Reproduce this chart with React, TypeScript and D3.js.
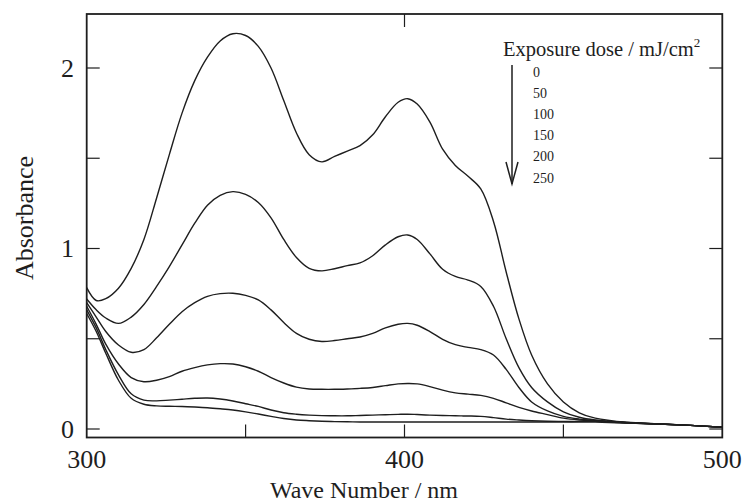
import React from "react";
import * as d3 from "d3";

const wavelengths = [300, 303, 306, 310, 314, 318, 322, 326, 330, 334, 338, 342, 346, 350, 354, 358, 362, 366, 370, 374, 378, 382, 386, 390, 394, 398, 401, 404, 408, 412, 416, 420, 424, 428, 432, 436, 440, 445, 450, 455, 460, 470, 480, 490, 500];

const dose0 = [0.783, 0.712, 0.722, 0.78, 0.89, 1.05, 1.28, 1.52, 1.75, 1.93, 2.06, 2.15, 2.19, 2.18, 2.12, 2.00, 1.82, 1.64, 1.52, 1.48, 1.51, 1.54, 1.57, 1.63, 1.73, 1.81, 1.83, 1.80, 1.70, 1.55, 1.46, 1.40, 1.33, 1.15, 0.87, 0.61, 0.41, 0.25, 0.15, 0.09, 0.06, 0.037, 0.029, 0.02, 0.01];
const dose50 = [0.72, 0.66, 0.615, 0.585, 0.62, 0.69, 0.79, 0.90, 1.02, 1.14, 1.24, 1.295, 1.315, 1.30, 1.255, 1.17, 1.05, 0.95, 0.89, 0.876, 0.888, 0.905, 0.92, 0.96, 1.02, 1.065, 1.075, 1.05, 0.97, 0.885, 0.845, 0.825, 0.79, 0.68, 0.50, 0.34, 0.23, 0.15, 0.095, 0.065, 0.05, 0.036, 0.028, 0.02, 0.01];
const dose100 = [0.70, 0.62, 0.54, 0.465, 0.425, 0.44, 0.505, 0.58, 0.65, 0.70, 0.735, 0.75, 0.752, 0.74, 0.715, 0.66, 0.59, 0.53, 0.497, 0.485, 0.49, 0.50, 0.51, 0.53, 0.56, 0.58, 0.585, 0.575, 0.54, 0.497, 0.467, 0.452, 0.44, 0.41, 0.33, 0.23, 0.15, 0.10, 0.07, 0.055, 0.047, 0.035, 0.028, 0.02, 0.01];
const dose150 = [0.68, 0.58, 0.47, 0.36, 0.285, 0.262, 0.27, 0.29, 0.32, 0.34, 0.355, 0.362, 0.36, 0.345, 0.32, 0.285, 0.255, 0.232, 0.222, 0.22, 0.22, 0.222, 0.225, 0.23, 0.24, 0.25, 0.252, 0.25, 0.235, 0.215, 0.20, 0.193, 0.186, 0.17, 0.145, 0.12, 0.10, 0.08, 0.06, 0.05, 0.045, 0.035, 0.028, 0.02, 0.01];
const dose200 = [0.66, 0.56, 0.44, 0.30, 0.195, 0.16, 0.156, 0.16, 0.165, 0.17, 0.172, 0.166, 0.155, 0.14, 0.125, 0.105, 0.09, 0.082, 0.077, 0.074, 0.073, 0.073, 0.075, 0.077, 0.079, 0.081, 0.082, 0.08, 0.077, 0.075, 0.073, 0.072, 0.07, 0.063, 0.055, 0.05, 0.046, 0.043, 0.042, 0.042, 0.042, 0.034, 0.027, 0.02, 0.01];
const dose250 = [0.64, 0.54, 0.42, 0.27, 0.17, 0.137, 0.128, 0.126, 0.125, 0.122, 0.118, 0.112, 0.105, 0.095, 0.083, 0.07, 0.058, 0.05, 0.046, 0.043, 0.041, 0.04, 0.039, 0.039, 0.039, 0.039, 0.039, 0.039, 0.039, 0.039, 0.039, 0.039, 0.039, 0.039, 0.039, 0.039, 0.039, 0.039, 0.039, 0.039, 0.038, 0.033, 0.027, 0.02, 0.01];

const series = [dose0, dose50, dose100, dose150, dose200, dose250];
const doseLabels = ["0", "50", "100", "150", "200", "250"];

const xLabelTicks = [300, 400, 500];
const xMinorTicks = [350, 400, 450];
const xTopTicks = [400];
const yLabelTicks = [0, 1, 2];
const yTicks = [0, 0.5, 1, 1.5, 2];

const FONT = "'Liberation Serif', 'Times New Roman', Times, serif";
const INK = "#1e1e1e";

export default function App() {
  const left = 86.7, right = 722.3, top = 14, bottom = 437.5;
  const x = d3.scaleLinear().domain([300, 500]).range([left, right]);
  const y = d3.scaleLinear().domain([0, 2]).range([429, 68]);
  const line = d3
    .line<number>()
    .x((_, i) => x(wavelengths[i]))
    .y((d) => y(d))
    .curve(d3.curveCatmullRom.alpha(0.5));
  const tl = 13;

  return (
    <svg width={745} height={504} style={{ position: "absolute", left: 0, top: 0, background: "#fff" }}>
      <rect x={0} y={0} width={745} height={504} fill="#fff" />
      {series.map((s, i) => (
        <path key={i} d={line(s) || ""} fill="none" stroke={INK} strokeWidth={1.4} />
      ))}
      <rect x={left} y={top} width={right - left} height={bottom - top} fill="none" stroke={INK} strokeWidth={1.8} />
      {yTicks.map((t) => (
        <g key={"y" + t}>
          <line x1={left} x2={left + tl} y1={y(t)} y2={y(t)} stroke={INK} strokeWidth={1.2} />
          <line x1={right} x2={right - tl} y1={y(t)} y2={y(t)} stroke={INK} strokeWidth={1.2} />
        </g>
      ))}
      {xMinorTicks.map((t) => (
        <line key={"xb" + t} x1={x(t)} x2={x(t)} y1={bottom} y2={bottom - tl} stroke={INK} strokeWidth={1.2} />
      ))}
      {xTopTicks.map((t) => (
        <line key={"xt" + t} x1={x(t)} x2={x(t)} y1={top} y2={top + tl} stroke={INK} strokeWidth={1.2} />
      ))}
      {yLabelTicks.map((t) => (
        <text key={"yl" + t} x={74} y={y(t) + 8.5} textAnchor="end" fontFamily={FONT} fontSize={26} fill={INK}>
          {t}
        </text>
      ))}
      {xLabelTicks.map((t) => (
        <text key={"xl" + t} x={x(t)} y={468} textAnchor="middle" fontFamily={FONT} fontSize={26} fill={INK}>
          {t}
        </text>
      ))}
      <text x={364} y={498} textAnchor="middle" fontFamily={FONT} fontSize={24} fill={INK}>
        Wave Number / nm
      </text>
      <text transform="translate(33,218) rotate(-90)" textAnchor="middle" fontFamily={FONT} fontSize={26} fill={INK}>
        Absorbance
      </text>
      <text x={503} y={56} fontFamily={FONT} fontSize={20.5} fill={INK}>
        Exposure dose / mJ/cm
        <tspan fontSize={13} dy={-9}>2</tspan>
      </text>
      {doseLabels.map((d, i) => (
        <text key={"d" + d} x={533} y={76.5 + 21.2 * i} fontFamily={FONT} fontSize={14} fill={INK}>
          {d}
        </text>
      ))}
      <line x1={512} x2={512} y1={65} y2={184} stroke={INK} strokeWidth={1.5} />
      <polyline points="506,162 512,184 518,162" fill="none" stroke={INK} strokeWidth={1.5} />
    </svg>
  );
}
